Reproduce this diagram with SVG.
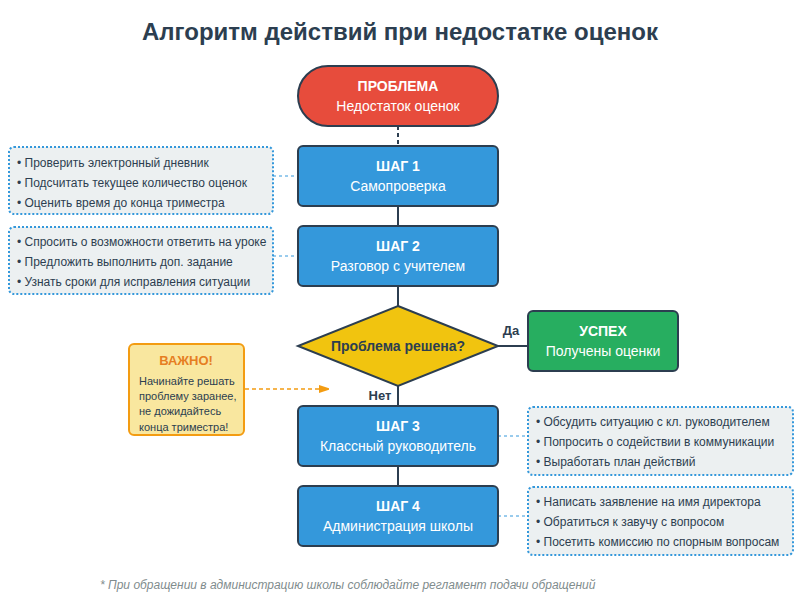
<svg xmlns="http://www.w3.org/2000/svg" width="800" height="600" viewBox="0 0 800 600">
<defs>
<marker id="arrOr" markerWidth="10" markerHeight="8" refX="9" refY="4" orient="auto" markerUnits="userSpaceOnUse">
<path d="M0,0 L12,4 L0,8 Z" fill="#f39c12"/>
</marker>
<style>
text{font-family:"Liberation Sans",Arial,sans-serif;}
.title{font-size:24px;font-weight:bold;fill:#2c3e50;text-anchor:middle;}
.node{stroke:#2c3e50;stroke-width:2;}
.hd{font-size:14px;font-weight:bold;fill:#fff;text-anchor:middle;}
.sub{font-size:14px;fill:#fff;text-anchor:middle;}
.note{fill:#ecf0f1;stroke:#3498db;stroke-width:2;stroke-dasharray:2 2;}
.nt{font-size:12px;fill:#2c3e50;}
.conn{stroke:#2c3e50;stroke-width:2;fill:none;}
.dconn{stroke:#3498db;stroke-width:1;stroke-dasharray:3 3;fill:none;}
.lbl{font-size:13px;font-weight:bold;fill:#2c3e50;}
</style>
</defs>
<rect width="800" height="600" fill="#fff"/>
<text class="title" x="400" y="40">Алгоритм действий при недостатке оценок</text>

<g id="connectors">
<line class="conn" x1="398" y1="126" x2="398" y2="146" stroke-dasharray="4 3"/>
<line class="conn" x1="398" y1="206" x2="398" y2="226"/>
<line class="conn" x1="398" y1="286" x2="398" y2="306"/>
<line class="conn" x1="498" y1="346" x2="528" y2="346"/>
<line class="conn" x1="398" y1="386" x2="398" y2="406"/>
<line class="conn" x1="398" y1="466" x2="398" y2="486"/>
<line class="dconn" x1="273" y1="176" x2="298" y2="176"/>
<line class="dconn" x1="273" y1="256" x2="298" y2="256"/>
<line class="dconn" x1="498" y1="436" x2="528" y2="436"/>
<line class="dconn" x1="498" y1="516" x2="528" y2="516"/>
<line x1="245" y1="389" x2="328" y2="389" stroke="#f39c12" stroke-width="1.5" stroke-dasharray="4 3" marker-end="url(#arrOr)"/>
<text class="lbl" x="511" y="335" text-anchor="middle">Да</text>
<text class="lbl" x="380" y="400" text-anchor="middle">Нет</text>
</g>

<g id="problem">
<rect class="node" x="298" y="66" width="200" height="60" rx="30" fill="#e74c3c"/>
<text class="hd" x="398" y="91">ПРОБЛЕМА</text>
<text class="sub" x="398" y="111">Недостаток оценок</text>
</g>

<g id="step1">
<rect class="node" x="298" y="146" width="200" height="60" rx="5" fill="#3498db"/>
<text class="hd" x="398" y="171">ШАГ 1</text>
<text class="sub" x="398" y="191">Самопроверка</text>
</g>

<g id="step2">
<rect class="node" x="298" y="226" width="200" height="60" rx="5" fill="#3498db"/>
<text class="hd" x="398" y="251">ШАГ 2</text>
<text class="sub" x="398" y="271">Разговор с учителем</text>
</g>

<g id="decision">
<polygon class="node" points="398,306 498,346 398,386 298,346" fill="#f1c40f"/>
<text x="398" y="351" text-anchor="middle" font-size="14" font-weight="bold" fill="#2c3e50">Проблема решена?</text>
</g>

<g id="success">
<rect class="node" x="528" y="311" width="150" height="60" rx="5" fill="#27ae60"/>
<text class="hd" x="603" y="336">УСПЕХ</text>
<text class="sub" x="603" y="356">Получены оценки</text>
</g>

<g id="step3">
<rect class="node" x="298" y="406" width="200" height="60" rx="5" fill="#3498db"/>
<text class="hd" x="398" y="431">ШАГ 3</text>
<text class="sub" x="398" y="451">Классный руководитель</text>
</g>

<g id="step4">
<rect class="node" x="298" y="486" width="200" height="60" rx="5" fill="#3498db"/>
<text class="hd" x="398" y="511">ШАГ 4</text>
<text class="sub" x="398" y="531">Администрация школы</text>
</g>

<g id="note1">
<rect class="note" x="9" y="147" width="264" height="67" rx="5"/>
<text class="nt" x="17" y="167">• Проверить электронный дневник</text>
<text class="nt" x="17" y="187">• Подсчитать текущее количество оценок</text>
<text class="nt" x="17" y="207">• Оценить время до конца триместра</text>
</g>

<g id="note2">
<rect class="note" x="9" y="227" width="264" height="67" rx="5"/>
<text class="nt" x="17" y="246">• Спросить о возможности ответить на уроке</text>
<text class="nt" x="17" y="266">• Предложить выполнить доп. задание</text>
<text class="nt" x="17" y="286">• Узнать сроки для исправления ситуации</text>
</g>

<g id="note3">
<rect class="note" x="528" y="407" width="265" height="68" rx="5"/>
<text class="nt" x="536" y="426">• Обсудить ситуацию с кл. руководителем</text>
<text class="nt" x="536" y="446">• Попросить о содействии в коммуникации</text>
<text class="nt" x="536" y="466">• Выработать план действий</text>
</g>

<g id="note4">
<rect class="note" x="528" y="487" width="265" height="68" rx="5"/>
<text class="nt" x="536" y="506">• Написать заявление на имя директора</text>
<text class="nt" x="536" y="526">• Обратиться к завучу с вопросом</text>
<text class="nt" x="536" y="546">• Посетить комиссию по спорным вопросам</text>
</g>

<g id="important">
<rect x="129" y="344" width="115" height="91" rx="5" fill="#f9e79f" stroke="#f39c12" stroke-width="2"/>
<text x="186" y="365" text-anchor="middle" font-size="13" font-weight="bold" fill="#e67e22">ВАЖНО!</text>
<text x="139" y="385" font-size="11" fill="#2c3e50">Начинайте решать</text>
<text x="139" y="400" font-size="11" fill="#2c3e50">проблему заранее,</text>
<text x="139" y="415" font-size="11" fill="#2c3e50">не дожидайтесь</text>
<text x="139" y="431" font-size="11" fill="#2c3e50">конца триместра!</text>
</g>

<text x="100" y="589" font-size="12" font-style="italic" fill="#7f8c8d">* При обращении в администрацию школы соблюдайте регламент подачи обращений</text>
</svg>
